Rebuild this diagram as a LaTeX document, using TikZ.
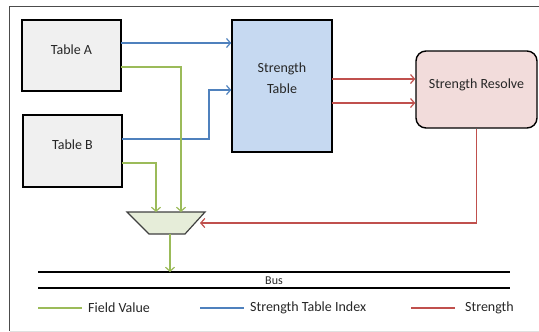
\documentclass[tikz,border=0pt]{standalone}
\usepackage{fontspec}
\setmainfont{Carlito}
\usetikzlibrary{arrows.meta}
\definecolor{gboxfill}{HTML}{F0F0F0}
\definecolor{stfill}{HTML}{C6D9F1}
\definecolor{srfill}{HTML}{F2DCDB}
\definecolor{muxfill}{HTML}{E6EDD9}
\definecolor{cblue}{HTML}{4F81BD}
\definecolor{cred}{HTML}{C0504D}
\definecolor{cgreen}{HTML}{9BBB59}
\tikzset{
  box/.style={draw=black, line width=1.4pt, fill=gboxfill, font=\fontsize{14}{17}\selectfont, align=center, inner sep=0pt, text=black!85},
  tip/.style={-{Straight Barb[length=4pt,width=9pt,line width=1.2pt]}},
  bluel/.style={draw=cblue, line width=1.3pt},
  redl/.style={draw=cred, line width=1.3pt},
  greenl/.style={draw=cgreen, line width=1.3pt},
  legtext/.style={font=\fontsize{14}{17}\selectfont, anchor=west, inner sep=0pt, text=black!85},
}
\begin{document}
\begin{tikzpicture}[x=1pt,y=-1pt]
\useasboundingbox (0,0) rectangle (539,332);
% frame
\draw[draw=black!70, line width=1pt] (9.5,331) -- (9.5,6.5) -- (539,6.5);
\draw[draw=black!12, line width=1pt] (9.5,331) -- (539,331);
% boxes
\node[box, minimum width=99pt, minimum height=71pt] (A) at (71.5,55.5) {\raisebox{11pt}{Table A}};
\node[box, minimum width=99pt, minimum height=72pt] (B) at (72.5,151) {\raisebox{12pt}{Table B}};
\node[box, fill=stfill, minimum width=100pt, minimum height=132pt] (ST) at (282,86) {\raisebox{27.5pt}{\begin{tabular}{@{}c@{}}Strength\\[4pt]Table\end{tabular}}};
\node[box, fill=srfill, rounded corners=10pt, minimum width=121pt, minimum height=77pt] (SR) at (476.5,89.5) {\raisebox{11.5pt}{Strength Resolve}};
% mux
\draw[line width=1.2pt, draw=black!75, fill=muxfill] (127,212) -- (205,212) -- (185,234) -- (149,234) -- cycle;
\coordinate (muxA) at (181,212);
\coordinate (muxB) at (156,212);
\coordinate (muxR) at (200,223);
\coordinate (muxO) at (170,234);
% bus
\coordinate (busT) at (170,272);
\draw[line width=1.5pt] (38,272) -- (510,272);
\draw[line width=1.5pt] (38,288) -- (510,288);
\node[font=\fontsize{12}{14}\selectfont, inner sep=0pt, text=black!85] (bus) at (274,280.5) {Bus};
% blue connectors
\coordinate (a1) at (121,43);
\coordinate (b1) at (122,139);
\draw[bluel, tip] (a1) -- (a1 -| ST.west);
\draw[bluel, tip] (b1) -- (209,139) -- (209,90) -- (ST.west |- 0,90);
% red connectors
\coordinate (s1) at (332,79);
\coordinate (s2) at (332,103);
\draw[redl, tip] (s1) -- (s1 -| SR.west);
\draw[redl, tip] (s2) -- (s2 -| SR.west);
\draw[redl, tip] (SR.south) -- (SR.south |- muxR) -- (muxR);
% green connectors
\coordinate (a2) at (121,67);
\coordinate (b2) at (122,163);
\draw[greenl, tip] (a2) -- (a2 -| muxA) -- (muxA);
\draw[greenl, tip] (b2) -- (b2 -| muxB) -- (muxB);
\draw[greenl, tip] (muxO) -- (busT);
% legend
\draw[greenl] (38,308) -- (82,308);
\node[legtext] (lg) at (88,308) {Field Value};
\draw[bluel] (200,308) -- (244,308);
\node[legtext] (lb) at (250,308) {Strength Table Index};
\draw[redl] (411,308) -- (455,308);
\node[legtext] (lr) at (465,308) {Strength};
\end{tikzpicture}
\end{document}
